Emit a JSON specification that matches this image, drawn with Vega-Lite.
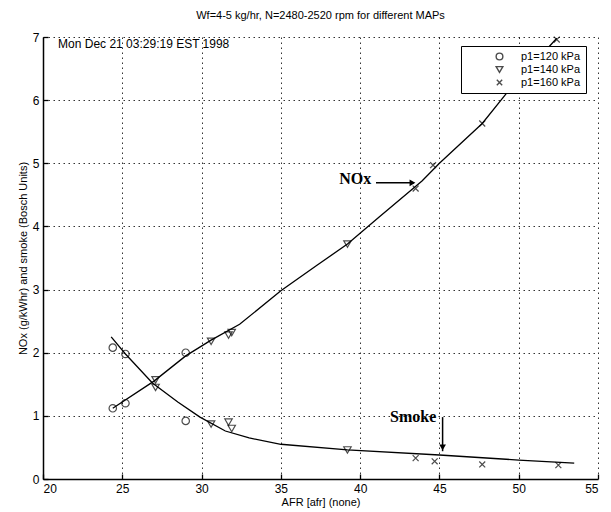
{
  "$schema": "https://vega.github.io/schema/vega-lite/v6.json",
  "autosize": "none",
  "width": 555,
  "height": 442,
  "padding": {"left": 43, "top": 37, "right": 13, "bottom": 33},
  "background": "white",
  "title": {"text": "Wf=4-5 kg/hr, N=2480-2520 rpm for different MAPs", "font": "Liberation Sans", "fontSize": 11, "fontWeight": "normal", "color": "black", "anchor": "middle", "offset": 10},
  "config": {
    "view": {"stroke": null},
    "axis": {"labelFont": "Liberation Sans", "labelFontSize": 12, "labelColor": "black", "titleFont": "Liberation Sans", "titleFontSize": 11, "titleFontWeight": "normal", "titleColor": "black", "domainColor": "black", "domainWidth": 1.5, "tickColor": "black", "tickWidth": 1.3, "tickSize": -5, "grid": true, "gridColor": "#000000", "gridDash": [1.5, 3.5], "gridWidth": 1, "gridOpacity": 0.8}
  },
  "datasets": {
    "pts": [
      {"afr": 24.4, "val": 2.08, "p1": "p1=120 kPa"},
      {"afr": 25.2, "val": 1.98, "p1": "p1=120 kPa"},
      {"afr": 24.4, "val": 1.12, "p1": "p1=120 kPa"},
      {"afr": 25.2, "val": 1.2, "p1": "p1=120 kPa"},
      {"afr": 29.0, "val": 2.0, "p1": "p1=120 kPa"},
      {"afr": 29.0, "val": 0.92, "p1": "p1=120 kPa"},
      {"afr": 27.1, "val": 1.57, "p1": "p1=140 kPa"},
      {"afr": 27.1, "val": 1.45, "p1": "p1=140 kPa"},
      {"afr": 30.6, "val": 2.18, "p1": "p1=140 kPa"},
      {"afr": 31.7, "val": 2.28, "p1": "p1=140 kPa"},
      {"afr": 31.9, "val": 2.32, "p1": "p1=140 kPa"},
      {"afr": 30.6, "val": 0.87, "p1": "p1=140 kPa"},
      {"afr": 31.7, "val": 0.9, "p1": "p1=140 kPa"},
      {"afr": 31.9, "val": 0.8, "p1": "p1=140 kPa"},
      {"afr": 39.2, "val": 3.72, "p1": "p1=140 kPa"},
      {"afr": 39.2, "val": 0.46, "p1": "p1=140 kPa"},
      {"afr": 43.5, "val": 0.33, "p1": "p1=160 kPa"},
      {"afr": 44.7, "val": 0.28, "p1": "p1=160 kPa"},
      {"afr": 47.7, "val": 0.23, "p1": "p1=160 kPa"},
      {"afr": 52.5, "val": 0.22, "p1": "p1=160 kPa"},
      {"afr": 43.5, "val": 4.6, "p1": "p1=160 kPa"},
      {"afr": 44.6, "val": 4.97, "p1": "p1=160 kPa"},
      {"afr": 47.7, "val": 5.63, "p1": "p1=160 kPa"},
      {"afr": 52.4, "val": 6.96, "p1": "p1=160 kPa"}
    ],
    "lines": [
      {"afr": 24.4, "val": 1.12, "curve": "NOx"},
      {"afr": 27.0, "val": 1.55, "curve": "NOx"},
      {"afr": 29.0, "val": 1.95, "curve": "NOx"},
      {"afr": 30.6, "val": 2.2, "curve": "NOx"},
      {"afr": 32.4, "val": 2.45, "curve": "NOx"},
      {"afr": 35.0, "val": 2.98, "curve": "NOx"},
      {"afr": 37.3, "val": 3.39, "curve": "NOx"},
      {"afr": 39.2, "val": 3.72, "curve": "NOx"},
      {"afr": 41.2, "val": 4.15, "curve": "NOx"},
      {"afr": 43.9, "val": 4.72, "curve": "NOx"},
      {"afr": 45.0, "val": 5.0, "curve": "NOx"},
      {"afr": 47.7, "val": 5.63, "curve": "NOx"},
      {"afr": 49.2, "val": 6.1, "curve": "NOx"},
      {"afr": 52.4, "val": 6.98, "curve": "NOx"},
      {"afr": 24.3, "val": 2.25, "curve": "Smoke"},
      {"afr": 25.2, "val": 1.98, "curve": "Smoke"},
      {"afr": 26.9, "val": 1.52, "curve": "Smoke"},
      {"afr": 28.5, "val": 1.22, "curve": "Smoke"},
      {"afr": 29.9, "val": 0.98, "curve": "Smoke"},
      {"afr": 31.5, "val": 0.76, "curve": "Smoke"},
      {"afr": 33.0, "val": 0.65, "curve": "Smoke"},
      {"afr": 35.0, "val": 0.55, "curve": "Smoke"},
      {"afr": 39.2, "val": 0.46, "curve": "Smoke"},
      {"afr": 45.0, "val": 0.38, "curve": "Smoke"},
      {"afr": 50.0, "val": 0.3, "curve": "Smoke"},
      {"afr": 53.5, "val": 0.25, "curve": "Smoke"}
    ],
    "labels": [
      {"afr": 40.7, "val": 4.75, "label": "NOx"},
      {"afr": 44.8, "val": 0.98, "label": "Smoke"}
    ],
    "arrows": [
      {"afr": 41.0, "val": 4.69, "arrow": "a"},
      {"afr": 43.4, "val": 4.69, "arrow": "a"},
      {"afr": 45.2, "val": 0.98, "arrow": "b"},
      {"afr": 45.2, "val": 0.44, "arrow": "b"}
    ],
    "heads": [
      {"afr": 43.3, "val": 4.69, "dir": "triangle-right"},
      {"afr": 45.2, "val": 0.5, "dir": "triangle-down"}
    ],
    "stamp": [
      {"afr": 20.95, "val": 6.89, "label": "Mon Dec 21 03:29:19 EST 1998"}
    ]
  },
  "encoding": {
    "x": {"field": "afr", "type": "quantitative", "scale": {"domain": [20, 55], "nice": false, "zero": false}, "axis": {"title": "AFR [afr] (none)", "values": [20, 25, 30, 35, 40, 45, 50, 55], "format": "d", "grid": true, "labelPadding": 9, "titlePadding": 2}},
    "y": {"field": "val", "type": "quantitative", "scale": {"domain": [0, 7], "nice": false}, "axis": {"title": "NOx (g/kWhr) and smoke (Bosch Units)", "values": [0, 1, 2, 3, 4, 5, 6, 7], "format": "d", "grid": true, "labelPadding": 9, "titlePadding": 4}}
  },
  "layer": [
    {
      "data": {"name": "lines"},
      "mark": {"type": "line", "color": "black", "strokeWidth": 1.3},
      "encoding": {
        "detail": {"field": "curve"}
      }
    },
    {
      "data": {"name": "pts"},
      "mark": {"type": "point", "filled": false, "color": "black", "strokeWidth": 1.2, "size": 55},
      "encoding": {
        "shape": {"field": "p1", "type": "nominal", "scale": {"domain": ["p1=120 kPa", "p1=140 kPa", "p1=160 kPa"], "range": ["circle", "triangle-down", "M-0.8,-0.8L0.8,0.8M-0.8,0.8L0.8,-0.8"]},
          "legend": {"title": null, "orient": "none", "legendX": 418, "legendY": 9, "strokeColor": "black", "fillColor": "white", "padding": 5, "labelFont": "Liberation Sans", "labelFontSize": 11, "labelColor": "black", "symbolStrokeColor": "black", "symbolStrokeWidth": 1.4, "symbolSize": 45, "rowPadding": 0, "labelOffset": 16, "symbolOffset": 28, "labelLimit": 200}}
      }
    },
    {
      "data": {"name": "stamp"},
      "mark": {"type": "text", "align": "left", "baseline": "middle", "font": "Liberation Sans", "fontSize": 12, "color": "black"},
      "encoding": {
        "text": {"field": "label"}
      }
    },
    {
      "data": {"name": "labels"},
      "mark": {"type": "text", "align": "right", "baseline": "middle", "font": "Liberation Serif", "fontSize": 16, "fontWeight": "bold", "color": "black"},
      "encoding": {
        "text": {"field": "label"}
      }
    },
    {
      "data": {"name": "arrows"},
      "mark": {"type": "line", "color": "black", "strokeWidth": 1.5},
      "encoding": {
        "detail": {"field": "arrow"}
      }
    },
    {
      "data": {"name": "heads"},
      "mark": {"type": "point", "filled": true, "color": "black", "size": 45, "opacity": 1},
      "encoding": {
        "shape": {"field": "dir", "type": "nominal", "scale": null, "legend": null}
      }
    }
  ]
}
